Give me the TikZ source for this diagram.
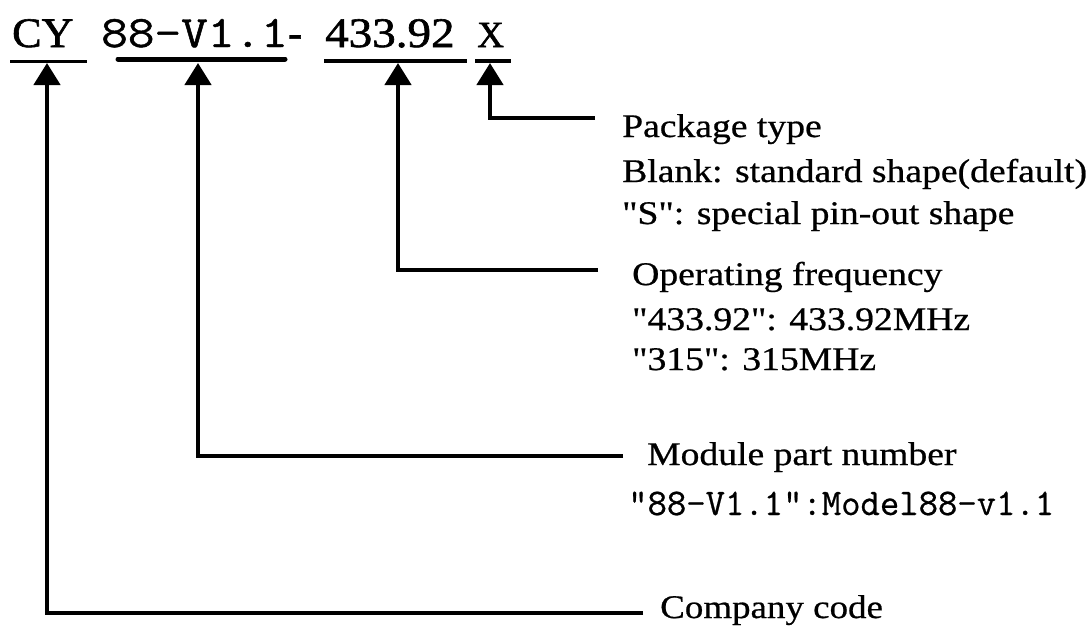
\documentclass[tikz,border=0pt]{standalone}
\usepackage{graphicx}
\usepackage{fontspec}
\setmainfont{Liberation Serif}[Ligatures=TeXOff, FakeBold=0.6]
\setmonofont{Latin Modern Mono}[FakeBold=0.6]
\newfontfamily\topfont{Liberation Serif}[FakeBold=1.4]
\newfontfamily\topmono{Latin Modern Mono}[FakeBold=1.0]
\usetikzlibrary{arrows.meta}
\newcommand\hs[2]{\scalebox{#1}[1]{#2}}
\tikzset{
  conn/.style={line width=4.5pt, -{Triangle[length=22pt,width=26pt]}, line join=miter},
  uline/.style={line width=3.5pt},
  lbl/.style={anchor=base west, inner sep=0pt, font=\fontsize{33}{40}\selectfont},
  toptxt/.style={anchor=base west, inner sep=0pt, font=\topfont\fontsize{42}{42}\selectfont},
  monotxt/.style={anchor=base west, inner sep=0pt},
}
\begin{document}
\begin{tikzpicture}[x=1pt,y=-1pt]
\useasboundingbox (0,0) rectangle (1089,635);
% top code
\node[toptxt] (cy) at (12,47) {\hs{1.05}{CY}};
\node[monotxt, font=\topmono\fontsize{45}{45}\selectfont] (pn) at (101,47) {\hs{1.15}{88-V1.1}};
\node[toptxt] (hy) at (288,47) {-};
\node[toptxt] (fq) at (325,47) {\hs{1.12}{433.92}};
\node[toptxt, font=\topfont\fontsize{37}{37}\selectfont] (pk) at (477,47) {X};
% underlines
\draw[line width=3pt] (10,61.5) -- (87,61.5);
\draw[line width=5pt, line cap=round] (118,59) -- (285,59);
\draw[uline] (324,61) -- (467,61);
\draw[uline] (475,61) -- (511,61);
% arrow tips and free ends
\coordinate (tCY) at (47,63);
\coordinate (tPN) at (198,63);
\coordinate (tFQ) at (398,63);
\coordinate (tPK) at (490,63);
\coordinate (ePK) at (595,118);
\coordinate (eFQ) at (598,270);
\coordinate (eMD) at (623,456);
\coordinate (eCO) at (643,613);
\draw[conn] (ePK) -| (tPK);
\draw[conn] (eFQ) -| (tFQ);
\draw[conn] (eMD) -| (tPN);
\draw[conn] (eCO) -| (tCY);
% labels
\node[lbl] (pk1) at (622,137) {\hs{1.14}{Package type}};
\node[lbl] (pk2) at (622,182) {\hs{1.14}{Blank: standard shape(default)}};
\node[lbl] (pk3) at (622,224) {\hs{1.14}{"S": special pin-out shape}};
\node[lbl] (fq1) at (632,285) {\hs{1.14}{Operating frequency}};
\node[lbl] (fq2) at (632,330) {\hs{1.14}{"433.92": 433.92MHz}};
\node[lbl] (fq3) at (632,370) {\hs{1.14}{"315": 315MHz}};
\node[lbl] (md1) at (647,465) {\hs{1.14}{Module part number}};
\node[monotxt, font=\ttfamily\fontsize{37.6}{40}\selectfont] (md2) at (628,515) {"88-V1.1":Model88-v1.1};
\node[lbl] (co) at (660,618) {\hs{1.12}{Company code}};
\end{tikzpicture}
\end{document}
